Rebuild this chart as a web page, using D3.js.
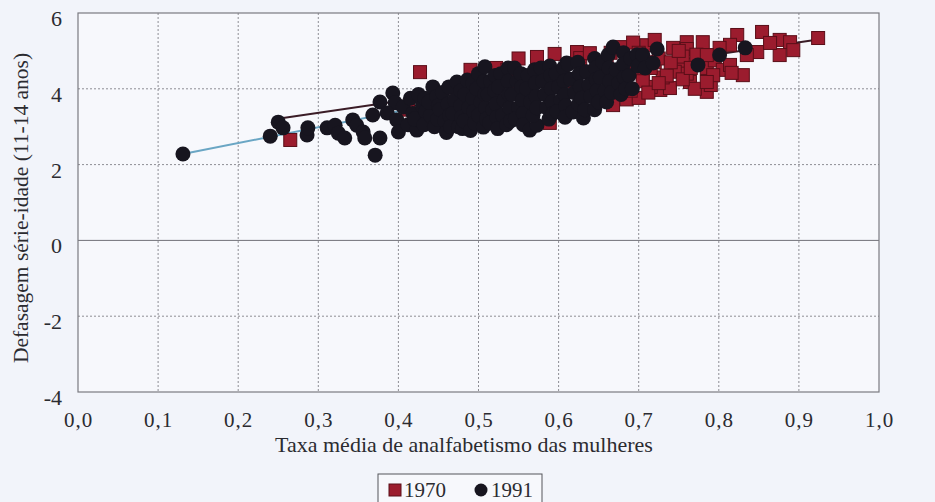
<!DOCTYPE html>
<html><head><meta charset="utf-8">
<script src="https://cdn.jsdelivr.net/npm/d3@7"></script>
<style>
html,body{margin:0;padding:0;background:#f2f4fa;}
svg{display:block;}
text{font-family:"Liberation Serif","Times New Roman",serif;fill:#2b2b30;}
</style></head>
<body>
<svg id="chart" width="935" height="502"></svg>
<script>
// ---- data ----
const xTicks = [0,0.1,0.2,0.3,0.4,0.5,0.6,0.7,0.8,0.9,1.0];
const xTickLabels = ["0,0","0,1","0,2","0,3","0,4","0,5","0,6","0,7","0,8","0,9","1,0"];
const yTicks = [-4,-2,0,2,4,6];
const yTickLabels = ["-4","-2","0","2","4","6"];
const seriesNames = ["1970","1991"];
const xTitle = "Taxa média de analfabetismo das mulheres";
const yTitle = "Defasagem série-idade (11-14 anos)";

const points1970 = [
 [0.265,2.65],[0.412,3.45],[0.427,4.44],[0.45,3.6],[0.50,3.8],[0.55,3.9],[0.55,4.1],[0.60,4.3],[0.62,4.2],[0.65,4.4],[0.66,4.6],
 [0.490,4.50],[0.522,4.55],[0.536,4.50],[0.550,4.80],[0.573,4.84],[0.595,4.92],[0.589,3.10],
 [0.623,4.97],[0.627,4.81],[0.639,4.94],[0.665,4.95],[0.680,5.10],[0.693,5.22],[0.710,5.15],[0.720,5.29],
 [0.743,5.08],[0.760,5.23],[0.780,5.23],[0.760,5.05],[0.700,4.95],
 [0.668,3.57],[0.685,3.72],[0.700,3.76],[0.727,3.97],[0.739,4.02],[0.764,4.18],[0.785,3.92],[0.790,4.10],
 [0.705,4.40],[0.720,4.70],[0.730,4.30],[0.750,4.60],[0.755,4.85],[0.760,4.40],[0.770,4.00],[0.775,4.70],
 [0.745,4.45],[0.715,4.05],
 [0.695,4.50],[0.705,4.20],[0.715,4.55],[0.725,4.80],[0.735,4.35],[0.740,4.70],[0.750,5.00],[0.755,4.25],
 [0.765,4.55],[0.772,4.90],[0.785,4.55],[0.795,4.75],[0.805,4.50],[0.690,3.95],[0.712,3.90],[0.725,4.15],
 [0.823,5.42],[0.854,5.50],[0.876,5.29],[0.889,5.23],[0.924,5.34],[0.848,4.97],[0.876,4.89],[0.893,5.02],
 [0.864,5.21],[0.814,5.16],[0.801,5.08],[0.785,4.89],[0.814,4.63],[0.830,4.36],[0.816,4.42],[0.793,4.36],
 [0.835,4.89],[0.785,4.18]
];

const points1991 = [
 [0.131,2.28],[0.240,2.75],[0.250,3.12],[0.256,2.97],[0.286,2.78],[0.287,2.97],[0.311,2.97],[0.321,3.04],
 [0.325,2.83],[0.333,2.70],[0.343,3.18],[0.348,3.04],[0.356,2.86],[0.358,2.70],[0.371,2.25],[0.377,2.70],
 [0.368,3.31],[0.377,3.65],[0.393,3.89],[0.396,3.63],[0.386,3.36],[0.398,3.18],[0.400,2.86],[0.406,3.52],
 [0.412,3.05],[0.415,3.75],[0.418,3.35],
 [0.423,2.91],[0.427,3.18],[0.430,3.55],[0.425,3.85],
 [0.420,3.20],[0.434,3.40],[0.433,3.75],[0.432,3.05],
 [0.443,4.05],[0.440,3.30],[0.445,3.00],[0.438,3.65],
 [0.448,3.80],[0.449,3.20],[0.450,3.55],
 [0.455,3.90],[0.452,3.45],[0.458,3.15],[0.460,2.85],
 [0.463,4.05],[0.462,3.60],[0.464,3.30],[0.465,3.00],
 [0.473,4.18],[0.470,3.70],[0.468,3.35],[0.475,3.00],
 [0.478,3.95],[0.478,3.55],[0.479,3.25],[0.480,2.95],
 [0.486,4.23],[0.483,3.85],[0.488,3.50],[0.482,3.15],[0.490,2.90],
 [0.493,4.15],[0.493,3.75],[0.494,3.40],[0.495,3.10],
 [0.500,4.40],[0.498,4.00],[0.503,3.65],[0.500,3.30],[0.506,2.99],
 [0.507,4.20],[0.508,3.85],[0.509,3.50],[0.510,3.20],
 [0.508,4.58],[0.515,4.20],[0.512,3.85],[0.518,3.45],[0.514,3.10],
 [0.521,4.35],[0.520,3.95],[0.522,3.60],[0.523,3.25],[0.524,2.95],
 [0.528,4.40],[0.525,4.05],[0.532,3.70],[0.530,3.30],[0.535,3.05],
 [0.537,4.55],[0.537,4.20],[0.538,3.85],[0.539,3.50],[0.540,3.15],
 [0.545,4.55],[0.548,4.20],[0.542,3.85],[0.550,3.50],[0.546,3.20],
 [0.553,4.40],[0.554,4.05],[0.555,3.70],[0.556,3.35],[0.556,3.05],
 [0.562,4.35],[0.560,4.00],[0.565,3.65],[0.564,2.91],[0.573,3.04],[0.568,3.30],
 [0.570,4.50],[0.571,4.15],[0.572,3.80],[0.573,3.50],
 [0.578,4.55],[0.580,4.20],[0.583,3.85],[0.585,3.50],[0.588,3.20],
 [0.589,4.60],[0.590,4.35],[0.591,4.00],[0.592,3.65],[0.593,3.35],
 [0.597,4.40],[0.600,4.05],[0.603,3.70],[0.598,3.40],[0.610,4.68],
 [0.606,4.55],[0.607,4.20],[0.608,3.85],[0.609,3.55],[0.608,3.25],
 [0.612,4.65],[0.615,4.25],[0.618,3.39],[0.620,3.90],[0.631,3.23],[0.625,3.60],
 [0.624,4.70],[0.626,4.40],[0.627,4.05],[0.629,3.75],[0.633,3.45],
 [0.635,4.45],[0.638,4.10],[0.640,3.80],[0.645,3.45],
 [0.645,4.80],[0.646,4.55],[0.647,4.25],[0.648,3.95],[0.650,3.65],
 [0.655,4.71],[0.652,4.30],[0.658,3.95],[0.660,3.65],
 [0.662,4.90],[0.663,4.55],[0.664,4.20],[0.666,3.90],
 [0.668,5.10],[0.672,4.50],[0.675,4.15],[0.678,3.85],
 [0.681,4.95],[0.681,4.65],[0.682,4.30],[0.684,4.00],
 [0.690,4.80],[0.688,4.35],[0.692,4.00],
 [0.698,4.90],[0.699,4.60],
 [0.705,4.90],[0.708,4.55],[0.718,4.68],[0.723,5.05],
 [0.774,4.63],[0.801,4.89],[0.833,5.08]
];

const trend1970 = [[0.256,3.23],[0.924,5.30]];
const trend1991 = [[0.131,2.28],[0.745,4.85]];

// ---- drawing ----
const svg = d3.select("#chart");
const M = {left:78, right:879, top:13, bottom:392};
const x = d3.scaleLinear().domain([0,1]).range([M.left, M.right]);
const y = d3.scaleLinear().domain([-4,6]).range([M.bottom, M.top]);
const FS = "21px";

svg.append("rect").attr("x",M.left).attr("y",M.top)
  .attr("width",M.right-M.left).attr("height",M.bottom-M.top)
  .attr("fill","#f7f8fc");

const grid = svg.append("g");
grid.selectAll(".vg").data(xTicks.slice(1,-1)).join("line")
  .attr("x1",d=>x(d)).attr("x2",d=>x(d)).attr("y1",M.top).attr("y2",M.bottom)
  .attr("stroke","#8e8e94").attr("stroke-width",1).attr("stroke-dasharray","2,2");
grid.selectAll(".hg").data(yTicks.slice(1,-1)).join("line")
  .attr("x1",M.left).attr("x2",M.right).attr("y1",d=>y(d)).attr("y2",d=>y(d))
  .attr("stroke",d=>d===0?"#707078":"#8e8e94").attr("stroke-width",1)
  .attr("stroke-dasharray",d=>d===0?null:"2,2");

svg.append("rect").attr("x",M.left).attr("y",M.top)
  .attr("width",M.right-M.left).attr("height",M.bottom-M.top)
  .attr("fill","none").attr("stroke","#7a7a80").attr("stroke-width",1.2);

const xAxis = d3.axisBottom(x).tickValues(xTicks)
  .tickFormat((d,i)=>xTickLabels[i]).tickSize(0).tickPadding(20.5);
const gx = svg.append("g").attr("transform",`translate(0,${M.bottom})`).call(xAxis);
gx.select(".domain").remove();
gx.selectAll("text").style("font-family","Liberation Serif").style("font-size",FS)
  .attr("fill","#2b2b30").style("letter-spacing","1px");
gx.selectAll("text").filter((d,i)=>i===xTicks.length-1).attr("fill","#a8505e");

const yAxis = d3.axisLeft(y).tickValues(yTicks)
  .tickFormat((d,i)=>yTickLabels[i]).tickSize(0).tickPadding(16);
const gy = svg.append("g").attr("transform",`translate(${M.left},0)`).call(yAxis);
gy.select(".domain").remove();
gy.selectAll("text").style("font-family","Liberation Serif").style("font-size","22px")
  .attr("fill","#2b2b30").attr("dy","0.57em");

svg.append("text").attr("x",464).attr("y",452).attr("text-anchor","middle")
  .style("font-size","22px").text(xTitle);
svg.append("text").attr("transform","translate(28,208) rotate(-90)")
  .attr("text-anchor","middle").style("font-size","21.5px").text(yTitle);

const line = d3.line().x(d=>x(d[0])).y(d=>y(d[1]));
svg.append("path").datum(trend1991).attr("d",line).attr("fill","none")
  .attr("stroke","#6aa6c4").attr("stroke-width",2);
svg.append("path").datum(trend1970).attr("d",line).attr("fill","none")
  .attr("stroke","#3a1c26").attr("stroke-width",2);

const S = 13;
svg.append("g").selectAll("rect").data(points1970).join("rect")
  .attr("x",d=>x(d[0])-S/2).attr("y",d=>y(d[1])-S/2)
  .attr("width",S).attr("height",S)
  .attr("fill","#9b1c2e").attr("stroke","#5a0e18").attr("stroke-width",1);
svg.append("g").selectAll("circle").data(points1991).join("circle")
  .attr("cx",d=>x(d[0])).attr("cy",d=>y(d[1])).attr("r",7.5)
  .attr("fill","#17151f");

const lg = svg.append("g");
lg.append("rect").attr("x",378).attr("y",474).attr("width",164).attr("height",40)
  .attr("fill","#f7f8fc").attr("stroke","#55555a").attr("stroke-width",1);
lg.append("rect").attr("x",389).attr("y",484).attr("width",12).attr("height",12)
  .attr("fill","#9b1c2e").attr("stroke","#5a0e18");
lg.append("text").attr("x",404).attr("y",497).style("font-size",FS).text(seriesNames[0]);
lg.append("circle").attr("cx",481).attr("cy",490).attr("r",6.5).attr("fill","#17151f");
lg.append("text").attr("x",491).attr("y",497).style("font-size",FS).text(seriesNames[1]);
</script>
</body></html>
